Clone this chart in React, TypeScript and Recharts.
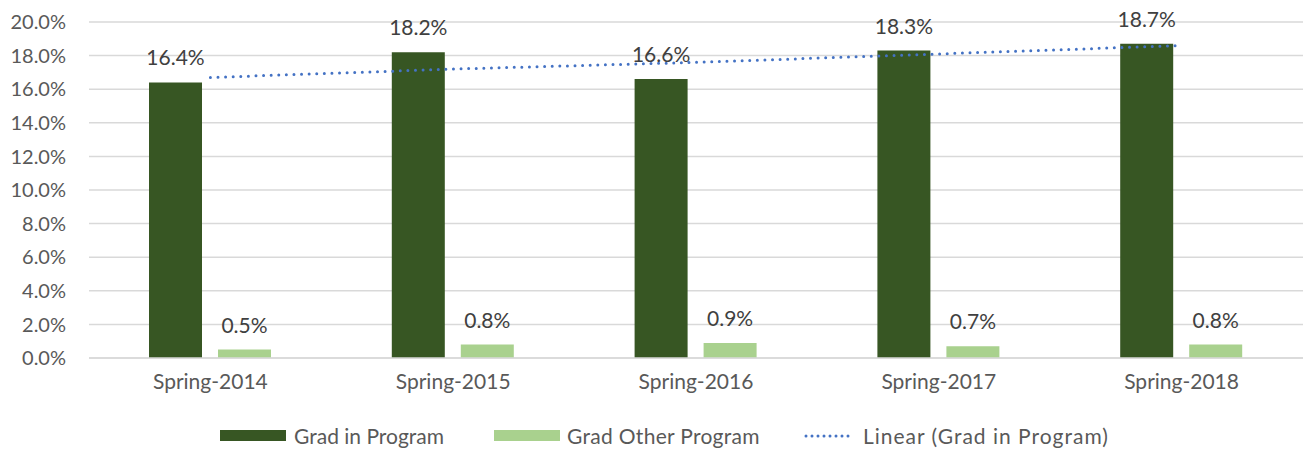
import React from 'react';
import {
  ComposedChart,
  Bar,
  Line,
  XAxis,
  YAxis,
  CartesianGrid,
  Legend,
  LabelList,
} from 'recharts';

const CATEGORIES = ['Spring-2014', 'Spring-2015', 'Spring-2016', 'Spring-2017', 'Spring-2018'];
const GRAD_IN_PROGRAM = [16.4, 18.2, 16.6, 18.3, 18.7];
const GRAD_OTHER_PROGRAM = [0.5, 0.8, 0.9, 0.7, 0.8];
// trend line at each category
const LINEAR_TREND = [16.7, 17.2, 17.6, 18.1, 18.6];
const Y_TICKS = [0, 2, 4, 6, 8, 10, 12, 14, 16, 18, 20];

const DARK = '#375623';
const LIGHT = '#A9D18E';
const TREND = '#4472C4';
const FONT = 'Lato, "Open Sans", sans-serif';

const data = CATEGORIES.map((name, i) => ({
  name,
  inProgram: GRAD_IN_PROGRAM[i],
  otherProgram: GRAD_OTHER_PROGRAM[i],
  trend: LINEAR_TREND[i],
}));

const pct = (v: number) => `${v.toFixed(1)}%`;

function ChartLegend() {
  const text = { fontSize: 21, color: '#595959', fontFamily: FONT };
  return (
    <div
      style={{
        display: 'flex',
        alignItems: 'center',
        justifyContent: 'center',
        paddingLeft: 26,
      }}
    >
      <div style={{ display: 'flex', alignItems: 'center', gap: 8 }}>
        <div style={{ width: 66, height: 11, background: DARK }} />
        <span style={text}>Grad in Program</span>
      </div>
      <div style={{ display: 'flex', alignItems: 'center', gap: 7, marginLeft: 50 }}>
        <div style={{ width: 66, height: 11, background: LIGHT }} />
        <span style={{ ...text, letterSpacing: 0.3 }}>Grad Other Program</span>
      </div>
      <div style={{ display: 'flex', alignItems: 'center', gap: 7, marginLeft: 44 }}>
        <svg width={52} height={6}>
          <line
            x1={2}
            y1={3}
            x2={50}
            y2={3}
            stroke={TREND}
            strokeWidth={3}
            strokeDasharray="0 6"
            strokeLinecap="round"
          />
        </svg>
        <span style={{ ...text, letterSpacing: 1 }}>Linear (Grad in Program)</span>
      </div>
    </div>
  );
}

export default function App() {
  return (
    <div style={{ position: 'absolute', left: 0, top: 0, background: '#fff' }}>
      <ComposedChart
        width={1303}
        height={450}
        data={data}
        margin={{ top: 22, right: 0, bottom: 0, left: 0 }}
        barGap={16}
        barCategoryGap={60}
      >
        <CartesianGrid vertical={false} stroke="#D9D9D9" strokeWidth={1.5} />
        <XAxis
          dataKey="name"
          tickLine={false}
          axisLine={{ stroke: '#D9D9D9', strokeWidth: 1.5 }}
          tickSize={0}
          tickMargin={16}
          tick={{ fill: '#595959', fontSize: 21, fontFamily: FONT }}
          height={67}
        />
        <YAxis
          domain={[0, 20]}
          ticks={Y_TICKS}
          interval={0}
          tickFormatter={pct}
          tickLine={false}
          axisLine={false}
          tickSize={0}
          tickMargin={23}
          width={89}
          tick={{ fill: '#595959', fontSize: 20, fontFamily: FONT }}
        />
        <Bar dataKey="inProgram" fill={DARK} isAnimationActive={false}>
          <LabelList
            dataKey="inProgram"
            position="top"
            offset={17}
            formatter={(v: any) => pct(Number(v))}
            style={{ fill: '#404040', fontSize: 21, fontFamily: FONT }}
          />
        </Bar>
        <Bar dataKey="otherProgram" fill={LIGHT} isAnimationActive={false}>
          <LabelList
            dataKey="otherProgram"
            position="top"
            offset={17}
            formatter={(v: any) => pct(Number(v))}
            style={{ fill: '#404040', fontSize: 21, fontFamily: FONT }}
          />
        </Bar>
        <Line
          dataKey="trend"
          type="linear"
          stroke={TREND}
          strokeWidth={3}
          strokeDasharray="0 7.6"
          strokeLinecap="round"
          dot={false}
          activeDot={false}
          isAnimationActive={false}
        />
        <Legend verticalAlign="bottom" content={() => <ChartLegend />} wrapperStyle={{ bottom: 2 }} />
      </ComposedChart>
    </div>
  );
}
